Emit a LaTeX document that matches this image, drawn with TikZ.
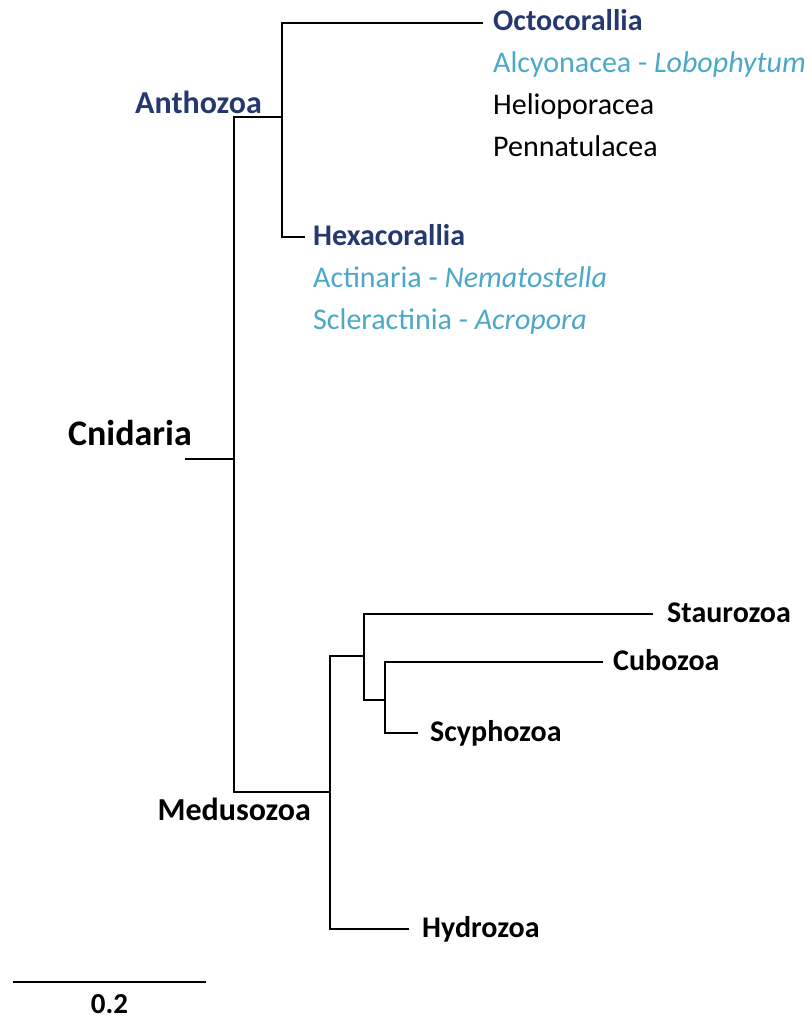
\documentclass[tikz,border=0pt]{standalone}
\usepackage{fontspec}
\setmainfont{Carlito}
\usepackage{tikz}
\usetikzlibrary{positioning}
\definecolor{cladeblue}{RGB}{38,56,112}
\definecolor{taxblue}{RGB}{75,168,200}

\begin{document}
\begin{tikzpicture}[
        x=1pt, y=-1pt,
        branch/.style={line width=2.4pt},
        leaf/.style={font=\fontsize{30}{36}\selectfont\bfseries, inner sep=0pt,
          anchor=west, text height=23pt, text depth=7pt},
        clade/.style={leaf, text=cladeblue},
        sub/.style={font=\fontsize{30}{36}\selectfont, inner sep=0pt, anchor=base west},
        grp/.style={font=\fontsize{32}{38}\selectfont\bfseries, inner sep=0pt}
      ]
      \useasboundingbox (0,0) rectangle (811,1019);
      % internal nodes of the tree
      \coordinate (rootend) at (185,459);
      \coordinate (cni) at (234,459);
      \coordinate (antho) at (282,117);
      \coordinate (medu) at (330,792);
      \coordinate (stcu) at (364,656);
      \coordinate (cusc) at (385,700);
      % branch tips
      \coordinate (octotip) at (483,23);
      \coordinate (hexatip) at (305,237);
      \coordinate (staurotip) at (653,614);
      \coordinate (cubotip) at (603,662);
      \coordinate (scyphotip) at (418,733);
      \coordinate (hydrotip) at (409,929);
      % leaves
      \node[clade, right=10pt of octotip] (octo) {Octocorallia};
      \node[sub, text=taxblue] (alcy) at ([yshift=-42pt]octo.base west) {Alcyonacea - \textit{Lobophytum}};
      \node[sub] (helio) at ([yshift=-42pt]alcy.base west) {Helioporacea};
      \node[sub] (penna) at ([yshift=-42pt]helio.base west) {Pennatulacea};
      \node[clade, right=8pt of hexatip] (hexa) {Hexacorallia};
      \node[sub, text=taxblue] (actin) at ([yshift=-42pt]hexa.base west) {Actinaria - \textit{Nematostella}};
      \node[sub, text=taxblue] (scler) at ([yshift=-42pt]actin.base west) {Scleractinia - \textit{Acropora}};
      \node[leaf, right=14pt of staurotip] (stauro) {Staurozoa};
      \node[leaf, right=10pt of cubotip] (cubo) {Cubozoa};
      \node[leaf, right=12pt of scyphotip] (scypho) {Scyphozoa};
      \node[leaf, right=13pt of hydrotip] (hydro) {Hydrozoa};
      % group names
      \node[grp, text=cladeblue, anchor=base east] (anthol) at (262,114) {Anthozoa};
      \node[grp, font=\fontsize{36}{42}\selectfont\bfseries, anchor=base east] (cnil) at (192,445) {Cnidaria};
      \node[grp, anchor=base east] (medul) at (311,820) {Medusozoa};
      % branches
      \draw[branch] (rootend) -- (cni);
      \draw[branch] (cni) |- (antho);
      \draw[branch] (cni) |- (medu);
      \draw[branch] (antho) |- (octotip);
      \draw[branch] (antho) |- (hexatip);
      \draw[branch] (medu) |- (stcu);
      \draw[branch] (medu) |- (hydrotip);
      \draw[branch] (stcu) |- (staurotip);
      \draw[branch] (stcu) |- (cusc);
      \draw[branch] (cusc) |- (cubotip);
      \draw[branch] (cusc) |- (scyphotip);
      % scale bar
      \coordinate (barL) at (13,982);
      \coordinate (barR) at (206,982);
      \draw[branch] (barL) -- (barR) coordinate[midway] (barmid);
      \node[grp, font=\fontsize{29}{34}\selectfont\bfseries, anchor=base] (scalel) at ([yshift=-31pt]barmid) {0.2};
    \end{tikzpicture}
\end{document}
